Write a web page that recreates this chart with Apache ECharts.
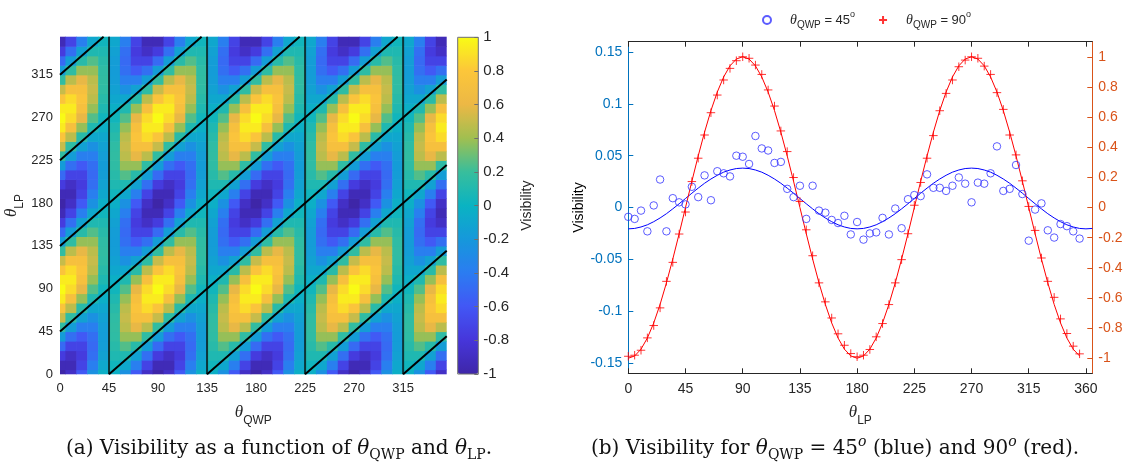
<!DOCTYPE html>
<html><head><meta charset="utf-8">
<script src="https://cdn.jsdelivr.net/npm/echarts@6/dist/echarts.min.js"></script>
<style>html,body{margin:0;padding:0;background:#fff}#c{width:1130px;height:465px}</style>
</head><body><div id="c"></div>
<script>
// ---------- panel (a): visibility map ----------
const qwpAngles = [0,10,20,30,40,50,60,70,80,90,100,110,120,130,140,150,160,170,180,190,200,210,220,230,240,250,260,270,280,290,300,310,320,330,340,350];
const lpGridAngles = [0,10,20,30,40,50,60,70,80,90,100,110,120,130,140,150,160,170,180,190,200,210,220,230,240,250,260,270,280,290,300,310,320,330,340,350];
// visGrid[i][j] = visibility at theta_QWP = qwpAngles[i], theta_LP = lpGridAngles[j]
const visGrid = [
[-1,-.94,-.77,-.5,-.17,.17,.5,.77,.94,1,.94,.77,.5,.17,-.17,-.5,-.77,-.94,-1,-.94,-.77,-.5,-.17,.17,.5,.77,.94,1,.94,.77,.5,.17,-.17,-.5,-.77,-.94],
[-.88,-.94,-.88,-.72,-.47,-.16,.16,.47,.72,.88,.94,.88,.72,.47,.16,-.16,-.47,-.72,-.88,-.94,-.88,-.72,-.47,-.16,.16,.47,.72,.88,.94,.88,.72,.47,.16,-.16,-.47,-.72],
[-.59,-.72,-.77,-.72,-.59,-.38,-.13,.13,.38,.59,.72,.77,.72,.59,.38,.13,-.13,-.38,-.59,-.72,-.77,-.72,-.59,-.38,-.13,.13,.38,.59,.72,.77,.72,.59,.38,.13,-.13,-.38],
[-.25,-.38,-.47,-.5,-.47,-.38,-.25,-.09,.09,.25,.38,.47,.5,.47,.38,.25,.09,-.09,-.25,-.38,-.47,-.5,-.47,-.38,-.25,-.09,.09,.25,.38,.47,.5,.47,.38,.25,.09,-.09],
[-.03,-.09,-.13,-.16,-.17,-.16,-.13,-.09,-.03,.03,.09,.13,.16,.17,.16,.13,.09,.03,-.03,-.09,-.13,-.16,-.17,-.16,-.13,-.09,-.03,.03,.09,.13,.16,.17,.16,.13,.09,.03],
[-.03,.03,.09,.13,.16,.17,.16,.13,.09,.03,-.03,-.09,-.13,-.16,-.17,-.16,-.13,-.09,-.03,.03,.09,.13,.16,.17,.16,.13,.09,.03,-.03,-.09,-.13,-.16,-.17,-.16,-.13,-.09],
[-.25,-.09,.09,.25,.38,.47,.5,.47,.38,.25,.09,-.09,-.25,-.38,-.47,-.5,-.47,-.38,-.25,-.09,.09,.25,.38,.47,.5,.47,.38,.25,.09,-.09,-.25,-.38,-.47,-.5,-.47,-.38],
[-.59,-.38,-.13,.13,.38,.59,.72,.77,.72,.59,.38,.13,-.13,-.38,-.59,-.72,-.77,-.72,-.59,-.38,-.13,.13,.38,.59,.72,.77,.72,.59,.38,.13,-.13,-.38,-.59,-.72,-.77,-.72],
[-.88,-.72,-.47,-.16,.16,.47,.72,.88,.94,.88,.72,.47,.16,-.16,-.47,-.72,-.88,-.94,-.88,-.72,-.47,-.16,.16,.47,.72,.88,.94,.88,.72,.47,.16,-.16,-.47,-.72,-.88,-.94],
[-1,-.94,-.77,-.5,-.17,.17,.5,.77,.94,1,.94,.77,.5,.17,-.17,-.5,-.77,-.94,-1,-.94,-.77,-.5,-.17,.17,.5,.77,.94,1,.94,.77,.5,.17,-.17,-.5,-.77,-.94],
[-.88,-.94,-.88,-.72,-.47,-.16,.16,.47,.72,.88,.94,.88,.72,.47,.16,-.16,-.47,-.72,-.88,-.94,-.88,-.72,-.47,-.16,.16,.47,.72,.88,.94,.88,.72,.47,.16,-.16,-.47,-.72],
[-.59,-.72,-.77,-.72,-.59,-.38,-.13,.13,.38,.59,.72,.77,.72,.59,.38,.13,-.13,-.38,-.59,-.72,-.77,-.72,-.59,-.38,-.13,.13,.38,.59,.72,.77,.72,.59,.38,.13,-.13,-.38],
[-.25,-.38,-.47,-.5,-.47,-.38,-.25,-.09,.09,.25,.38,.47,.5,.47,.38,.25,.09,-.09,-.25,-.38,-.47,-.5,-.47,-.38,-.25,-.09,.09,.25,.38,.47,.5,.47,.38,.25,.09,-.09],
[-.03,-.09,-.13,-.16,-.17,-.16,-.13,-.09,-.03,.03,.09,.13,.16,.17,.16,.13,.09,.03,-.03,-.09,-.13,-.16,-.17,-.16,-.13,-.09,-.03,.03,.09,.13,.16,.17,.16,.13,.09,.03],
[-.03,.03,.09,.13,.16,.17,.16,.13,.09,.03,-.03,-.09,-.13,-.16,-.17,-.16,-.13,-.09,-.03,.03,.09,.13,.16,.17,.16,.13,.09,.03,-.03,-.09,-.13,-.16,-.17,-.16,-.13,-.09],
[-.25,-.09,.09,.25,.38,.47,.5,.47,.38,.25,.09,-.09,-.25,-.38,-.47,-.5,-.47,-.38,-.25,-.09,.09,.25,.38,.47,.5,.47,.38,.25,.09,-.09,-.25,-.38,-.47,-.5,-.47,-.38],
[-.59,-.38,-.13,.13,.38,.59,.72,.77,.72,.59,.38,.13,-.13,-.38,-.59,-.72,-.77,-.72,-.59,-.38,-.13,.13,.38,.59,.72,.77,.72,.59,.38,.13,-.13,-.38,-.59,-.72,-.77,-.72],
[-.88,-.72,-.47,-.16,.16,.47,.72,.88,.94,.88,.72,.47,.16,-.16,-.47,-.72,-.88,-.94,-.88,-.72,-.47,-.16,.16,.47,.72,.88,.94,.88,.72,.47,.16,-.16,-.47,-.72,-.88,-.94],
[-1,-.94,-.77,-.5,-.17,.17,.5,.77,.94,1,.94,.77,.5,.17,-.17,-.5,-.77,-.94,-1,-.94,-.77,-.5,-.17,.17,.5,.77,.94,1,.94,.77,.5,.17,-.17,-.5,-.77,-.94],
[-.88,-.94,-.88,-.72,-.47,-.16,.16,.47,.72,.88,.94,.88,.72,.47,.16,-.16,-.47,-.72,-.88,-.94,-.88,-.72,-.47,-.16,.16,.47,.72,.88,.94,.88,.72,.47,.16,-.16,-.47,-.72],
[-.59,-.72,-.77,-.72,-.59,-.38,-.13,.13,.38,.59,.72,.77,.72,.59,.38,.13,-.13,-.38,-.59,-.72,-.77,-.72,-.59,-.38,-.13,.13,.38,.59,.72,.77,.72,.59,.38,.13,-.13,-.38],
[-.25,-.38,-.47,-.5,-.47,-.38,-.25,-.09,.09,.25,.38,.47,.5,.47,.38,.25,.09,-.09,-.25,-.38,-.47,-.5,-.47,-.38,-.25,-.09,.09,.25,.38,.47,.5,.47,.38,.25,.09,-.09],
[-.03,-.09,-.13,-.16,-.17,-.16,-.13,-.09,-.03,.03,.09,.13,.16,.17,.16,.13,.09,.03,-.03,-.09,-.13,-.16,-.17,-.16,-.13,-.09,-.03,.03,.09,.13,.16,.17,.16,.13,.09,.03],
[-.03,.03,.09,.13,.16,.17,.16,.13,.09,.03,-.03,-.09,-.13,-.16,-.17,-.16,-.13,-.09,-.03,.03,.09,.13,.16,.17,.16,.13,.09,.03,-.03,-.09,-.13,-.16,-.17,-.16,-.13,-.09],
[-.25,-.09,.09,.25,.38,.47,.5,.47,.38,.25,.09,-.09,-.25,-.38,-.47,-.5,-.47,-.38,-.25,-.09,.09,.25,.38,.47,.5,.47,.38,.25,.09,-.09,-.25,-.38,-.47,-.5,-.47,-.38],
[-.59,-.38,-.13,.13,.38,.59,.72,.77,.72,.59,.38,.13,-.13,-.38,-.59,-.72,-.77,-.72,-.59,-.38,-.13,.13,.38,.59,.72,.77,.72,.59,.38,.13,-.13,-.38,-.59,-.72,-.77,-.72],
[-.88,-.72,-.47,-.16,.16,.47,.72,.88,.94,.88,.72,.47,.16,-.16,-.47,-.72,-.88,-.94,-.88,-.72,-.47,-.16,.16,.47,.72,.88,.94,.88,.72,.47,.16,-.16,-.47,-.72,-.88,-.94],
[-1,-.94,-.77,-.5,-.17,.17,.5,.77,.94,1,.94,.77,.5,.17,-.17,-.5,-.77,-.94,-1,-.94,-.77,-.5,-.17,.17,.5,.77,.94,1,.94,.77,.5,.17,-.17,-.5,-.77,-.94],
[-.88,-.94,-.88,-.72,-.47,-.16,.16,.47,.72,.88,.94,.88,.72,.47,.16,-.16,-.47,-.72,-.88,-.94,-.88,-.72,-.47,-.16,.16,.47,.72,.88,.94,.88,.72,.47,.16,-.16,-.47,-.72],
[-.59,-.72,-.77,-.72,-.59,-.38,-.13,.13,.38,.59,.72,.77,.72,.59,.38,.13,-.13,-.38,-.59,-.72,-.77,-.72,-.59,-.38,-.13,.13,.38,.59,.72,.77,.72,.59,.38,.13,-.13,-.38],
[-.25,-.38,-.47,-.5,-.47,-.38,-.25,-.09,.09,.25,.38,.47,.5,.47,.38,.25,.09,-.09,-.25,-.38,-.47,-.5,-.47,-.38,-.25,-.09,.09,.25,.38,.47,.5,.47,.38,.25,.09,-.09],
[-.03,-.09,-.13,-.16,-.17,-.16,-.13,-.09,-.03,.03,.09,.13,.16,.17,.16,.13,.09,.03,-.03,-.09,-.13,-.16,-.17,-.16,-.13,-.09,-.03,.03,.09,.13,.16,.17,.16,.13,.09,.03],
[-.03,.03,.09,.13,.16,.17,.16,.13,.09,.03,-.03,-.09,-.13,-.16,-.17,-.16,-.13,-.09,-.03,.03,.09,.13,.16,.17,.16,.13,.09,.03,-.03,-.09,-.13,-.16,-.17,-.16,-.13,-.09],
[-.25,-.09,.09,.25,.38,.47,.5,.47,.38,.25,.09,-.09,-.25,-.38,-.47,-.5,-.47,-.38,-.25,-.09,.09,.25,.38,.47,.5,.47,.38,.25,.09,-.09,-.25,-.38,-.47,-.5,-.47,-.38],
[-.59,-.38,-.13,.13,.38,.59,.72,.77,.72,.59,.38,.13,-.13,-.38,-.59,-.72,-.77,-.72,-.59,-.38,-.13,.13,.38,.59,.72,.77,.72,.59,.38,.13,-.13,-.38,-.59,-.72,-.77,-.72],
[-.88,-.72,-.47,-.16,.16,.47,.72,.88,.94,.88,.72,.47,.16,-.16,-.47,-.72,-.88,-.94,-.88,-.72,-.47,-.16,.16,.47,.72,.88,.94,.88,.72,.47,.16,-.16,-.47,-.72,-.88,-.94]
];
const heatTicks = [0,45,90,135,180,225,270,315];
const colorbarTicks = [-1,-0.8,-0.6,-0.4,-0.2,0,0.2,0.4,0.6,0.8,1];
const qwpLineAngles = [45,135,225,315];
const diagSegments = [
  [[0,45],[310,355]], [[0,135],[220,355]], [[0,225],[130,355]], [[0,315],[40,355]],
  [[45,0],[355,310]], [[135,0],[355,220]], [[225,0],[355,130]], [[315,0],[355,40]]
];

// ---------- panel (b): measured visibility vs theta_LP ----------
const lpAngles = [0,5,10,15,20,25,30,35,40,45,50,55,60,65,70,75,80,85,90,95,100,105,110,115,120,125,130,135,140,145,150,155,160,165,170,175,180,185,190,195,200,205,210,215,220,225,230,235,240,245,250,255,260,265,270,275,280,285,290,295,300,305,310,315,320,325,330,335,340,345,350,355];
const blueVis = [-0.009,-0.011,-0.003,-0.023,0.002,0.027,-0.023,0.009,0.005,0.003,0.020,0.010,0.031,0.007,0.035,0.033,0.030,0.050,0.049,0.042,0.069,0.057,0.055,0.043,0.044,0.018,0.010,0.021,-0.011,0.021,-0.003,-0.005,-0.012,-0.015,-0.008,-0.026,-0.014,-0.031,-0.025,-0.024,-0.010,-0.026,-0.001,-0.020,0.008,0.012,0.011,0.032,0.019,0.019,0.016,0.021,0.029,0.023,0.005,0.024,0.023,0.033,0.059,0.016,0.018,0.041,0.013,-0.032,-0.002,0.004,-0.022,-0.029,-0.016,-0.018,-0.023,-0.030];
const redVis = [-0.987,-0.98,-0.947,-0.865,-0.783,-0.666,-0.49,-0.364,-0.176,-0.03,0.172,0.327,0.481,0.629,0.746,0.846,0.923,0.974,1.0,0.99,0.945,0.883,0.78,0.673,0.508,0.371,0.199,0.04,-0.148,-0.32,-0.5,-0.626,-0.733,-0.838,-0.914,-0.969,-0.99,-0.98,-0.942,-0.858,-0.77,-0.644,-0.5,-0.346,-0.174,0.015,0.166,0.327,0.477,0.642,0.757,0.846,0.934,0.978,1.0,0.99,0.938,0.883,0.762,0.651,0.481,0.349,0.177,0.007,-0.152,-0.335,-0.49,-0.596,-0.739,-0.836,-0.92,-0.971];
const fitAngles = [0,5,10,15,20,25,30,35,40,45,50,55,60,65,70,75,80,85,90,95,100,105,110,115,120,125,130,135,140,145,150,155,160,165,170,175,180,185,190,195,200,205,210,215,220,225,230,235,240,245,250,255,260,265,270,275,280,285,290,295,300,305,310,315,320,325,330,335,340,345,350,355,360,365];
const blueFit = [-0.0206,-0.0202,-0.0188,-0.0167,-0.0137,-0.0101,-0.0060,-0.0013,0.0036,0.0087,0.0138,0.0187,0.0234,0.0275,0.0311,0.0341,0.0362,0.0376,0.0380,0.0376,0.0362,0.0341,0.0311,0.0275,0.0234,0.0187,0.0138,0.0087,0.0036,-0.0013,-0.0060,-0.0101,-0.0137,-0.0167,-0.0188,-0.0202,-0.0206,-0.0202,-0.0188,-0.0167,-0.0137,-0.0101,-0.0060,-0.0013,0.0036,0.0087,0.0138,0.0187,0.0234,0.0275,0.0311,0.0341,0.0362,0.0376,0.0380,0.0376,0.0362,0.0341,0.0311,0.0275,0.0234,0.0187,0.0138,0.0087,0.0036,-0.0013,-0.0060,-0.0101,-0.0137,-0.0167,-0.0188,-0.0202,-0.0206,-0.0202];
const redFit = [-1,-0.985,-0.94,-0.866,-0.766,-0.643,-0.5,-0.342,-0.174,0,0.174,0.342,0.5,0.643,0.766,0.866,0.94,0.985,1,0.985,0.94,0.866,0.766,0.643,0.5,0.342,0.174,0,-0.174,-0.342,-0.5,-0.643,-0.766,-0.866,-0.94,-0.985,-1,-0.985,-0.94,-0.866,-0.766,-0.643,-0.5,-0.342,-0.174,0,0.174,0.342,0.5,0.643,0.766,0.866,0.94,0.985,1,0.985,0.94,0.866,0.766,0.643,0.5,0.342,0.174,0,-0.174,-0.342,-0.5,-0.643,-0.766,-0.866,-0.94,-0.985];
const lpTicks = [0,45,90,135,180,225,270,315,360];
const leftTicks = [-0.15,-0.1,-0.05,0,0.05,0.1,0.15];
const rightTicks = [-1,-0.8,-0.6,-0.4,-0.2,0,0.2,0.4,0.6,0.8,1];

const parula = ['#3E26A8','#4636DA','#4257F5','#2B7CF1','#1698DB','#0AB3C2','#38BE9C','#A0BF50','#ECB845','#FCC63A','#F9FB15'];
const AX = '#262626', BLUE_AX = '#0072BD', ORANGE_AX = '#D95319';
const SANS = 'Liberation Sans';

const heatData = [];
visGrid.forEach((row, i) => row.forEach((v, j) => heatData.push([qwpAngles[i], lpGridAngles[j], v])));

function renderCell(params, api) {
  const q = api.value(0), p = api.value(1);
  const tl = api.coord([q - 5, p + 5]);
  const br = api.coord([q + 5, p - 5]);
  const cs = params.coordSys;
  const r = echarts.graphic.clipRectByRect(
    {x: tl[0], y: tl[1], width: br[0] - tl[0] + 0.6, height: br[1] - tl[1] + 0.6},
    {x: cs.x, y: cs.y, width: cs.width, height: cs.height});
  return r && {type: 'rect', shape: r, style: {fill: api.visual('color')}};
}

const nameRich = {
  t: {fontFamily: 'Liberation Serif', fontStyle: 'italic', fontSize: 17, color: AX, lineHeight: 28},
  s: {fontFamily: SANS, fontSize: 12, color: AX, lineHeight: 12, verticalAlign: 'bottom'}
};

const series = [];
series.push({type: 'custom', xAxisIndex: 0, yAxisIndex: 0, renderItem: renderCell, data: heatData, silent: true, z: 1});
qwpLineAngles.forEach(a => series.push({type: 'line', xAxisIndex: 0, yAxisIndex: 0, data: [[a, 0], [a, 355]], symbol: 'none', silent: true, z: 3,
  lineStyle: {color: 'rgba(10,30,30,0.85)', width: 2}}));
diagSegments.forEach(s => series.push({type: 'line', xAxisIndex: 0, yAxisIndex: 0, data: s, symbol: 'none', silent: true, z: 3,
  lineStyle: {color: '#000', width: 2}}));

series.push({type: 'line', name: 'fit45', xAxisIndex: 2, yAxisIndex: 2, data: fitAngles.map((a, i) => [a, blueFit[i]]),
  symbol: 'none', lineStyle: {color: '#0000FF', width: 1}, silent: true, z: 3});
series.push({type: 'scatter', name: 's45', xAxisIndex: 2, yAxisIndex: 2, data: lpAngles.map((a, i) => [a, blueVis[i]]),
  symbol: 'circle', symbolSize: 7.5, itemStyle: {color: 'rgba(0,0,0,0)', borderColor: '#3333FF', borderWidth: 1}, z: 4});
series.push({type: 'line', name: 'fit90', xAxisIndex: 2, yAxisIndex: 3, data: lpAngles.map((a, i) => [a, redFit[i]]),
  symbol: 'none', lineStyle: {color: '#FF0000', width: 1}, silent: true, z: 3});
series.push({type: 'scatter', name: 's90', xAxisIndex: 2, yAxisIndex: 3, data: lpAngles.map((a, i) => [a, redVis[i]]),
  symbol: 'path://M0,5L10,5M5,0L5,10', symbolSize: 8.5, itemStyle: {color: 'rgba(0,0,0,0)', borderColor: '#FF0000', borderWidth: 1}, z: 4});

const legendRich = {
  t: {fontFamily: 'Liberation Serif', fontStyle: 'italic', fontSize: 14, color: AX, lineHeight: 20, padding: [0, 0, 0, 14]},
  s: {fontFamily: SANS, fontSize: 10, color: AX, lineHeight: 10, verticalAlign: 'bottom'},
  m: {fontFamily: SANS, fontSize: 13, color: AX, lineHeight: 20},
  o: {fontFamily: SANS, fontSize: 9, color: AX, lineHeight: 9, verticalAlign: 'top'}
};

const capRich = {
  ti: {fontFamily: 'DejaVu Serif', fontStyle: 'italic', fontSize: 20, lineHeight: 27, fill: '#111'},
  sb: {fontFamily: 'DejaVu Serif', fontSize: 14, lineHeight: 14, verticalAlign: 'bottom', fill: '#111'},
  sp: {fontFamily: 'DejaVu Serif', fontStyle: 'italic', fontSize: 14, lineHeight: 14, verticalAlign: 'top', fill: '#111'}
};

const option = {
  animation: false,
  backgroundColor: '#fff',
  grid: [
    {left: 60, top: 36.7, width: 386.7, height: 337.6, containLabel: false},
    {left: 457.7, top: 37.3, width: 20.6, height: 336.7, show: true, borderColor: '#6e6e6e', borderWidth: 1, backgroundColor: 'rgba(0,0,0,0)', z: 10},
    {left: 628.3, top: 41.7, width: 464, height: 331.6}
  ],
  xAxis: [
    {gridIndex: 0, type: 'value', min: 0, max: 355, interval: 45, axisLine: {show: false}, axisTick: {show: false}, splitLine: {show: false},
     axisLabel: {color: AX, fontSize: 13, fontFamily: SANS, margin: 8, customValues: heatTicks},
     name: '{t|θ}{s|QWP}', nameLocation: 'middle', nameGap: 24, nameTextStyle: {rich: nameRich}},
    {gridIndex: 1, type: 'value', min: 0, max: 1, show: false},
    {gridIndex: 2, type: 'value', min: 0, max: 365, interval: 45, axisLine: {show: true, onZero: false, lineStyle: {color: AX}}, axisTick: {inside: true, length: 5, lineStyle: {color: AX}, customValues: lpTicks},
     splitLine: {show: false}, axisLabel: {color: AX, fontSize: 14, fontFamily: SANS, margin: 9, customValues: lpTicks},
     name: '{t|θ}{s|LP}', nameLocation: 'middle', nameGap: 25, nameTextStyle: {rich: nameRich}},
    {gridIndex: 2, type: 'value', position: 'top', min: 0, max: 365, interval: 45, axisLine: {show: true, onZero: false, lineStyle: {color: AX}}, axisTick: {inside: true, length: 5, lineStyle: {color: AX}, customValues: lpTicks},
     splitLine: {show: false}, axisLabel: {show: false}}
  ],
  yAxis: [
    {gridIndex: 0, type: 'value', min: 0, max: 355, interval: 45, axisLine: {show: false}, axisTick: {show: false}, splitLine: {show: false},
     axisLabel: {color: AX, fontSize: 13, fontFamily: SANS, margin: 7, customValues: heatTicks},
     name: '{t|θ}{s|LP}', nameLocation: 'middle', nameGap: 34, nameRotate: 90, nameTextStyle: {rich: nameRich}},
    {gridIndex: 1, type: 'value', position: 'right', min: -1, max: 1, interval: 0.2, z: 10,
     axisLine: {show: false, onZero: false}, axisTick: {show: true, inside: true, length: 4, lineStyle: {color: '#6e6e6e'}}, splitLine: {show: false},
     axisLabel: {color: AX, fontSize: 15, fontFamily: SANS, margin: 5, customValues: colorbarTicks},
     name: 'Visibility', nameLocation: 'middle', nameGap: 42, nameRotate: 90, nameTextStyle: {color: AX, fontSize: 14, fontFamily: SANS}},
    {gridIndex: 2, type: 'value', position: 'left', min: -0.16, max: 0.16, axisLine: {show: true, onZero: false, lineStyle: {color: BLUE_AX}},
     axisTick: {inside: true, length: 5, lineStyle: {color: BLUE_AX}, customValues: leftTicks}, splitLine: {show: false},
     axisLabel: {color: BLUE_AX, fontSize: 14, fontFamily: SANS, margin: 6, customValues: leftTicks},
     name: 'Visibility', nameLocation: 'middle', nameGap: 37, nameRotate: 90, nameTextStyle: {color: '#000', fontSize: 14, fontFamily: SANS}},
    {gridIndex: 2, type: 'value', position: 'right', min: -1.1, max: 1.1, axisLine: {show: true, onZero: false, lineStyle: {color: ORANGE_AX}},
     axisTick: {inside: true, length: 5, lineStyle: {color: ORANGE_AX}, customValues: rightTicks}, splitLine: {show: false},
     axisLabel: {color: ORANGE_AX, fontSize: 14, fontFamily: SANS, margin: 6, customValues: rightTicks}}
  ],
  visualMap: {
    type: 'continuous', min: -1, max: 1, dimension: 2, seriesIndex: 0, calculable: false, hoverLink: false,
    orient: 'vertical', left: 457.7, top: 37.3, itemWidth: 20.6, itemHeight: 336.7, padding: 0, showLabel: false, text: null,
    inRange: {color: parula}
  },
  legend: {
    left: 757, top: 5, itemWidth: 8, itemHeight: 8, itemGap: 23, selectedMode: false,
    data: ['s45', 's90'],
    formatter: n => n === 's45' ? '{t|θ}{s|QWP}{m| = 45}{o|o}' : '{t|θ}{s|QWP}{m| = 90}{o|o}',
    textStyle: {rich: legendRich}
  },
  graphic: [
    {type: 'text', x: 279, y: 449, style: {text: '(a) Visibility as a function of {ti|θ}{sb|QWP} and {ti|θ}{sb|LP}.', align: 'center', verticalAlign: 'middle',
      fontFamily: 'DejaVu Serif', fontSize: 20, lineHeight: 27, fill: '#111', rich: capRich}},
    {type: 'text', x: 835, y: 449, style: {text: '(b) Visibility for {ti|θ}{sb|QWP} = 45{sp|o} (blue) and 90{sp|o} (red).', align: 'center', verticalAlign: 'middle',
      fontFamily: 'DejaVu Serif', fontSize: 20, lineHeight: 27, fill: '#111', rich: capRich}}
  ],
  series: series
};

const chart = echarts.init(document.getElementById('c'), null, {renderer: 'canvas'});
chart.setOption(option);
</script>
</body></html>
